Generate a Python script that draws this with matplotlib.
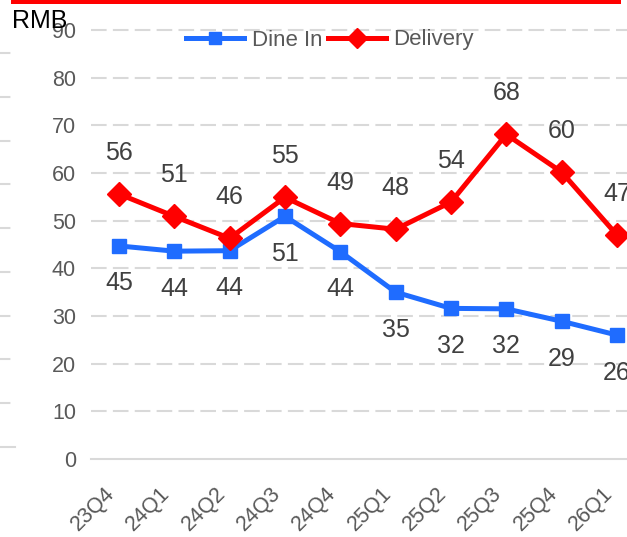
import matplotlib
matplotlib.use("Agg")
import matplotlib.pyplot as plt
from matplotlib.patches import Rectangle
from matplotlib.lines import Line2D

plt.rcParams['font.family'] = ['Liberation Sans', 'DejaVu Sans']

quarters = ["23Q4", "24Q1", "24Q2", "24Q3", "24Q4", "25Q1", "25Q2", "25Q3", "25Q4", "26Q1"]
dine_in = [44.7, 43.6, 43.7, 50.9, 43.5, 35.0, 31.6, 31.5, 28.9, 26.0]
delivery = [55.6, 50.9, 46.3, 54.9, 49.4, 48.2, 53.9, 68.1, 60.2, 47.0]
yticks = [0, 10, 20, 30, 40, 50, 60, 70, 80, 90]

BLUE = "#1F6CFF"
RED = "#FF0000"
GRID = "#D9D9D9"
TICK = "#595959"
LAB = "#404040"

W, H = 627, 537
fig = plt.figure(figsize=(W / 100, H / 100), dpi=100)

# main axes
x_left = 91.3
x_step = 55.33
y0, y90 = 459, 30
ax = fig.add_axes([x_left / W, (H - y0) / H, (x_step * 10) / W, (y0 - y90) / H])
xs = list(range(len(quarters)))
ax.set_xlim(-0.5, 9.5)
ax.set_ylim(0, 90)
for s in ax.spines.values():
    s.set_visible(False)
for v in yticks:
    if v == 0:
        ax.axhline(v, color=GRID, lw=1.5, zorder=0, clip_on=False)
    else:
        ax.axhline(v, color=GRID, lw=1.5, ls=(0, (7.5, 3.0)), zorder=0, clip_on=False)
ax.set_yticks(yticks)
ax.set_yticklabels([str(v) for v in yticks], fontsize=15.5, color=TICK)
ax.tick_params(axis='y', length=0, pad=11)
ax.set_xticks(xs)
ax.set_xticklabels(quarters, rotation=45, ha='right', va='top', fontsize=15.5, color=TICK)
ax.tick_params(axis='x', length=0, pad=17.5)

ax.plot(xs, dine_in, color=BLUE, lw=3.6, marker='s', markersize=9.5, zorder=3, clip_on=False)
ax.plot(xs, delivery, color=RED, lw=3.6, marker='D', markersize=12, zorder=4, clip_on=False)

for x, v in zip(xs, dine_in):
    ax.annotate(f"{round(v):d}", (x, v), xytext=(0, -27), textcoords='offset points',
                ha='center', va='center', fontsize=18, color=LAB)
for x, v in zip(xs, delivery):
    ax.annotate(f"{round(v):d}", (x, v), xytext=(0, 29.5), textcoords='offset points',
                ha='center', va='center', fontsize=18, color=LAB)

handles = [
    Line2D([], [], color=BLUE, lw=3.6, marker='s', markersize=9),
    Line2D([], [], color=RED, lw=3.6, marker='D', markersize=10.5),
]
leg = fig.legend(handles, ["Dine In", "Delivery"], loc='center', bbox_to_anchor=(330 / W, 1 - 40 / H),
                 ncol=2, frameon=False, fontsize=16, handlelength=2.6, handletextpad=0.35,
                 columnspacing=0.25, borderpad=0)
for t in leg.get_texts():
    t.set_color(TICK)

# neighbouring chart gridline remnants at the left edge
ax2 = fig.add_axes([0, (H - 447) / H, 15 / W, (447 - 53) / H])
ax2.set_xlim(0, 1)
ax2.set_ylim(0, 90)
ax2.axis('off')
for v in yticks:
    if v == 0:
        ax2.axhline(v, color=GRID, lw=1.5, clip_on=False)
    else:
        ax2.axhline(v, color=GRID, lw=1.5, ls=(0, (5.0, 3.0)), clip_on=False)

# red bar on top and RMB unit
fig.add_artist(Rectangle((11 / W, 1 - 4 / H), (621 - 11) / W, 4 / H, transform=fig.transFigure,
                         color=RED, lw=0))
fig.text(12 / W, 1 - 28 / H, "RMB", fontsize=18, color='black', va='baseline', ha='left')

fig.savefig("out.png", dpi=100)
